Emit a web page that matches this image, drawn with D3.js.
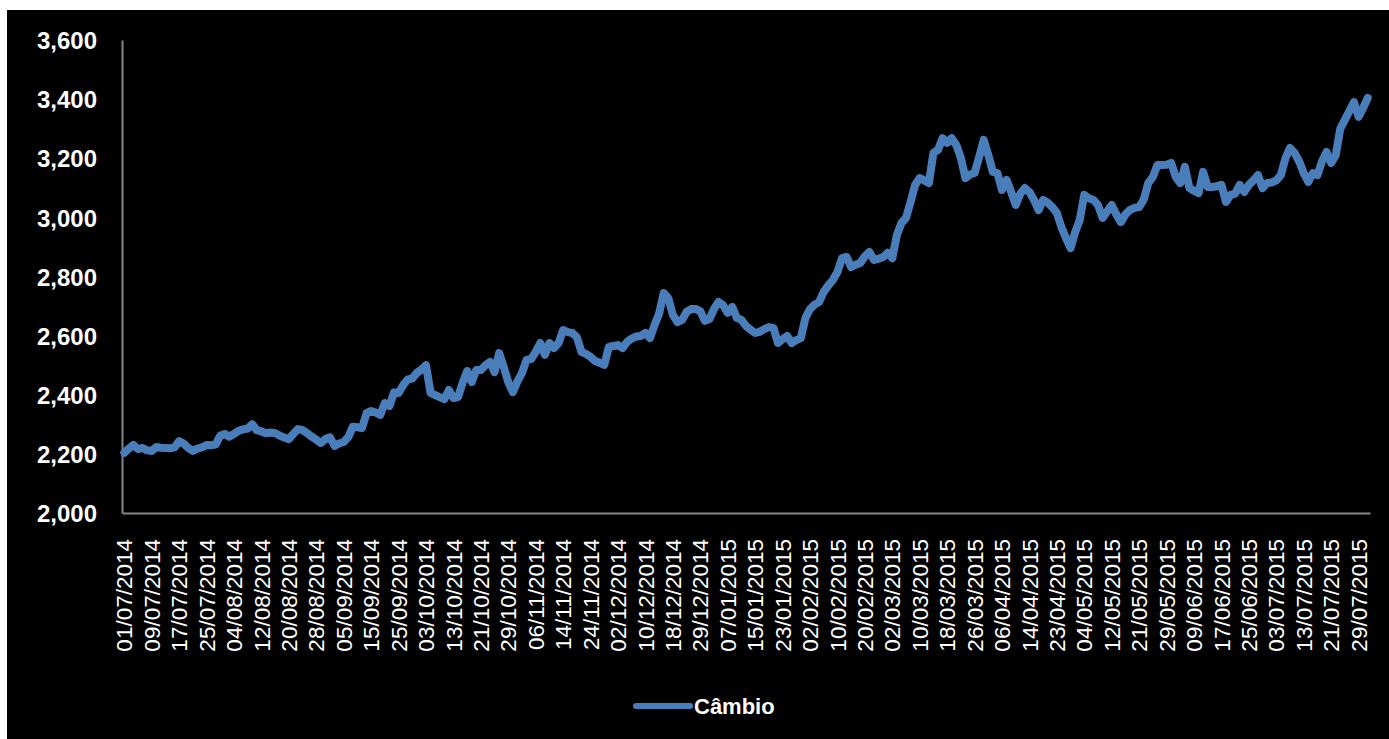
<!DOCTYPE html>
<html>
<head>
<meta charset="utf-8">
<script src="https://cdn.jsdelivr.net/npm/d3@7"></script>
<style>
  html, body { margin: 0; padding: 0; background: #ffffff; }
  svg { display: block; }
</style>
</head>
<body>
<script>
// ---- DATA ----
const seriesName = "Câmbio";

const tickLabels = [
  "01/07/2014","09/07/2014","17/07/2014","25/07/2014","04/08/2014","12/08/2014",
  "20/08/2014","28/08/2014","05/09/2014","15/09/2014","25/09/2014","03/10/2014",
  "13/10/2014","21/10/2014","29/10/2014","06/11/2014","14/11/2014","24/11/2014",
  "02/12/2014","10/12/2014","18/12/2014","29/12/2014","07/01/2015","15/01/2015",
  "23/01/2015","02/02/2015","10/02/2015","20/02/2015","02/03/2015","10/03/2015",
  "18/03/2015","26/03/2015","06/04/2015","14/04/2015","23/04/2015","04/05/2015",
  "12/05/2015","21/05/2015","29/05/2015","09/06/2015","17/06/2015","25/06/2015",
  "03/07/2015","13/07/2015","21/07/2015","29/07/2015"
];
const pointsPerTick = 6;

const values = [
  2204,2218,2230,2216,2220,2212,2210,2223,2221,2220,
  2219,2222,2243,2235,2220,2210,2218,2222,2230,2229,
  2232,2262,2267,2258,2268,2278,2283,2286,2300,2280,
  2276,2270,2272,2270,2262,2255,2250,2268,2284,2280,
  2270,2258,2248,2237,2250,2256,2227,2235,2240,2257,
  2292,2290,2287,2338,2345,2340,2332,2372,2362,2408,
  2406,2432,2452,2455,2474,2485,2500,2406,2399,2392,
  2385,2416,2389,2392,2440,2480,2443,2484,2484,2500,
  2511,2477,2541,2494,2443,2409,2445,2474,2518,2521,
  2545,2575,2535,2575,2558,2575,2619,2612,2609,2595,
  2545,2538,2528,2514,2508,2501,2562,2565,2568,2558,
  2579,2590,2597,2599,2609,2592,2636,2675,2744,2727,
  2670,2646,2653,2680,2690,2690,2683,2650,2656,2690,
  2714,2703,2677,2697,2660,2653,2633,2620,2609,2613,
  2622,2629,2626,2575,2588,2599,2575,2585,2592,2660,
  2690,2705,2714,2748,2770,2788,2815,2862,2866,2832,
  2840,2846,2868,2883,2856,2860,2866,2880,2862,2940,
  2981,2998,3052,3110,3133,3125,3116,3218,3228,3268,
  3252,3268,3245,3201,3133,3145,3150,3204,3262,3211,
  3154,3150,3093,3127,3086,3042,3080,3099,3086,3059,
  3025,3059,3050,3035,3015,2967,2930,2896,2950,2991,
  3076,3065,3059,3042,2998,3020,3042,3010,2984,3010,
  3025,3032,3035,3060,3116,3137,3177,3177,3178,3184,
  3137,3116,3171,3099,3090,3082,3154,3103,3103,3105,
  3110,3052,3076,3080,3110,3086,3110,3125,3143,3099,
  3116,3118,3125,3143,3200,3235,3218,3190,3150,3120,
  3150,3143,3190,3221,3184,3210,3300,3330,3360,3390,
  3340,3370,3404
];

const yTicks = [2000,2200,2400,2600,2800,3000,3200,3400,3600];

// ---- CHART ----
const W = 1389, H = 739;
const plot = { left: 122, right: 1370, top: 40, bottom: 513 };

const svg = d3.select("body").append("svg").attr("width", W).attr("height", H);
svg.append("rect").attr("x", 7).attr("y", 10).attr("width", W - 7).attr("height", H - 10).attr("fill", "#000000");

const x = d3.scaleBand().domain(d3.range(values.length)).range([plot.left, plot.right]).paddingInner(0).paddingOuter(0);
const xc = i => x(i) + x.bandwidth() / 2;
const y = d3.scaleLinear().domain([2000, 3600]).range([plot.bottom, plot.top]);

const fmt = d3.format(",");

// Y axis
const yAxis = d3.axisLeft(y).tickValues(yTicks).tickSize(0).tickPadding(25).tickFormat(d => fmt(d));
const gy = svg.append("g").attr("transform", `translate(${plot.left},0)`).call(yAxis);
gy.select(".domain").attr("stroke", "#868686").attr("stroke-width", 2);
gy.selectAll("text").attr("fill", "#ffffff").attr("font-family", "'Liberation Sans', Arial, sans-serif")
  .attr("font-weight", "bold").attr("font-size", 24).attr("dy", "0.36em");

// X axis
const tickIdx = tickLabels.map((_, k) => k * pointsPerTick);
const xAxis = d3.axisBottom(x).tickValues(tickIdx).tickSize(0).tickFormat(i => tickLabels[i / pointsPerTick]);
const gx = svg.append("g").attr("transform", `translate(0,${plot.bottom})`).call(xAxis);
gx.select(".domain").attr("stroke", "#868686").attr("stroke-width", 2);
gx.selectAll("text")
  .attr("fill", "#ffffff").attr("font-family", "'Liberation Sans', Arial, sans-serif").attr("font-size", 22.5)
  .attr("text-anchor", "end").attr("transform", "translate(0,26) rotate(-90)")
  .attr("x", 0).attr("y", 0).attr("dy", "0.36em");

// Line
const line = d3.line().x((d, i) => xc(i)).y(d => y(d));
svg.append("path").datum(values).attr("d", line).attr("fill", "none")
  .attr("stroke", "#4a7ebb").attr("stroke-width", 8).attr("stroke-linejoin", "round").attr("stroke-linecap", "round");

// Legend
const lg = svg.append("g").attr("transform", "translate(636,706)");
lg.append("line").attr("x1", 0).attr("x2", 54).attr("y1", 0).attr("y2", 0)
  .attr("stroke", "#4a7ebb").attr("stroke-width", 6).attr("stroke-linecap", "round");
lg.append("text").attr("x", 58).attr("y", 0).attr("dy", "0.36em").text(seriesName)
  .attr("fill", "#ffffff").attr("font-family", "'Liberation Sans', Arial, sans-serif")
  .attr("font-weight", "bold").attr("font-size", 22);
</script>
</body>
</html>
